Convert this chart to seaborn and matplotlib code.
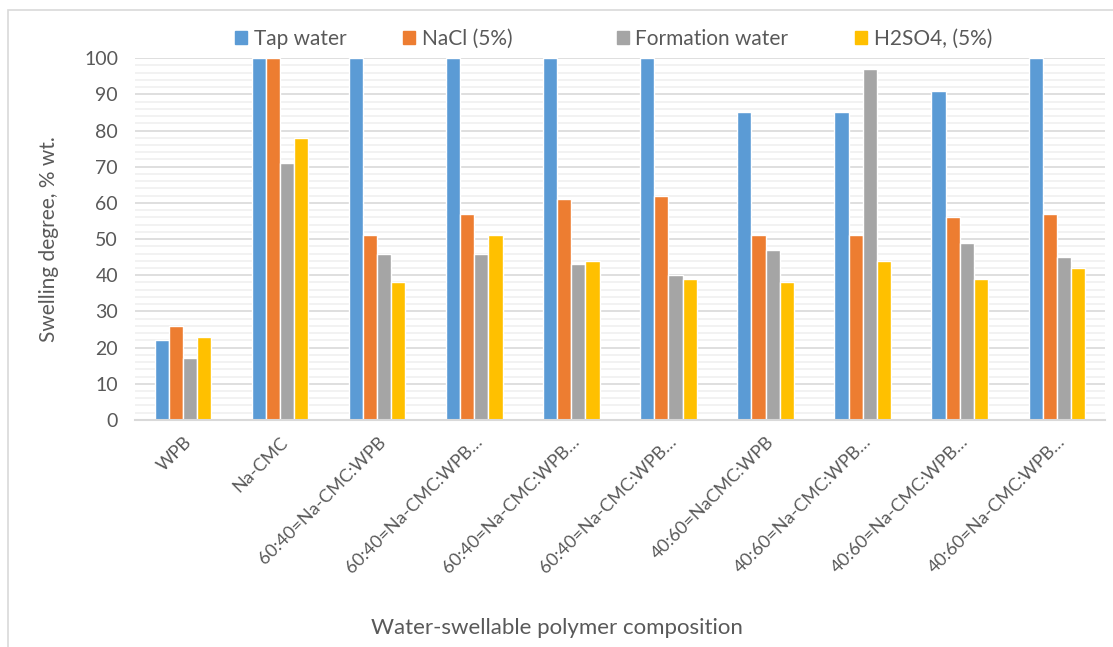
import seaborn as sns
import matplotlib.pyplot as plt
import pandas as pd
from matplotlib.patches import Rectangle
from matplotlib.ticker import MultipleLocator

# --- data ---
compositions = ["WPB", "Na-CMC", "60:40=Na-CMC:WPB", "60:40=Na-CMC:WPB…",
                "60:40=Na-CMC:WPB…", "60:40=Na-CMC:WPB…", "40:60=NaCMC:WPB",
                "40:60=Na-CMC:WPB…", "40:60=Na-CMC:WPB…", "40:60=Na-CMC:WPB…"]
media = ["Tap water", "NaCl (5%)", "Formation water", "H2SO4, (5%)"]
tap_water = [22, 100, 100, 100, 100, 100, 85, 85, 91, 100]
nacl = [26, 100, 51, 57, 61, 62, 51, 51, 56, 57]
formation_water = [17, 71, 46, 46, 43, 40, 47, 97, 49, 45]
h2so4 = [23, 78, 38, 51, 44, 39, 38, 44, 39, 42]
colors = ["#5B9BD5", "#ED7D31", "#A5A5A5", "#FFC000"]

# long format table, category index keeps duplicated labels apart
rows = []
for series_name, values in zip(media, [tap_water, nacl, formation_water, h2so4]):
    for i, v in enumerate(values):
        rows.append({"idx": i, "medium": series_name, "value": v})
df = pd.DataFrame(rows)

sns.set_theme(style="white")
plt.rcParams["font.family"] = ["Lato", "DejaVu Sans"]
text_color = "#595959"

fig = plt.figure(figsize=(11.13, 6.47), dpi=100)
ax = fig.add_axes([0.121, 0.351, 0.872, 0.559])

sns.barplot(data=df, x="idx", y="value", hue="medium", hue_order=media,
            palette=colors, width=0.58, gap=0, saturation=1, ax=ax,
            legend=False, errorbar=None)

ax.set_ylim(0, 100)
ax.set_xlim(-0.5, len(compositions) - 0.5)
ax.yaxis.set_major_locator(MultipleLocator(10))
ax.yaxis.set_minor_locator(MultipleLocator(2))
ax.grid(axis="y", which="major", color="#D9D9D9", linewidth=1.2)
ax.grid(axis="y", which="minor", color="#F0F0F0", linewidth=1.2)
ax.set_axisbelow(True)
for side in ["left", "right", "top"]:
    ax.spines[side].set_visible(False)
ax.spines["bottom"].set_color("#D9D9D9")
ax.spines["bottom"].set_linewidth(1.5)

ax.set_xticks(range(len(compositions)))
ax.set_xticklabels(compositions, rotation=45, ha="right", rotation_mode="anchor",
                   fontsize=13, color=text_color)
ax.tick_params(axis="y", labelsize=14, colors=text_color, length=0, pad=12)
ax.tick_params(axis="x", length=0, pad=10)

ax.set_ylabel("Swelling degree, % wt.", fontsize=15, color=text_color, labelpad=18)
ax.set_xlabel("")
fig.text(0.5, 0.02, "Water-swellable polymer composition", ha="center",
         fontsize=16, color=text_color)

# legend on top, one entry per slot like the spreadsheet layout
legend_x = [0.211, 0.362, 0.554, 0.768]
for name, c, lx in zip(media, colors, legend_x):
    fig.legend([Rectangle((0, 0), 1, 1, color=c)], [name], loc="center left",
               bbox_to_anchor=(lx, 0.94), frameon=False, fontsize=15,
               labelcolor=text_color, handlelength=0.6, handleheight=0.6,
               handletextpad=0.3, borderpad=0, borderaxespad=0)

# light frame around the chart
fig.patches.append(Rectangle((0.007, -0.01), 1.0, 0.995, transform=fig.transFigure,
                             fill=False, edgecolor="#D9D9D9", linewidth=1.2))

fig.savefig("out.png", dpi=100)
